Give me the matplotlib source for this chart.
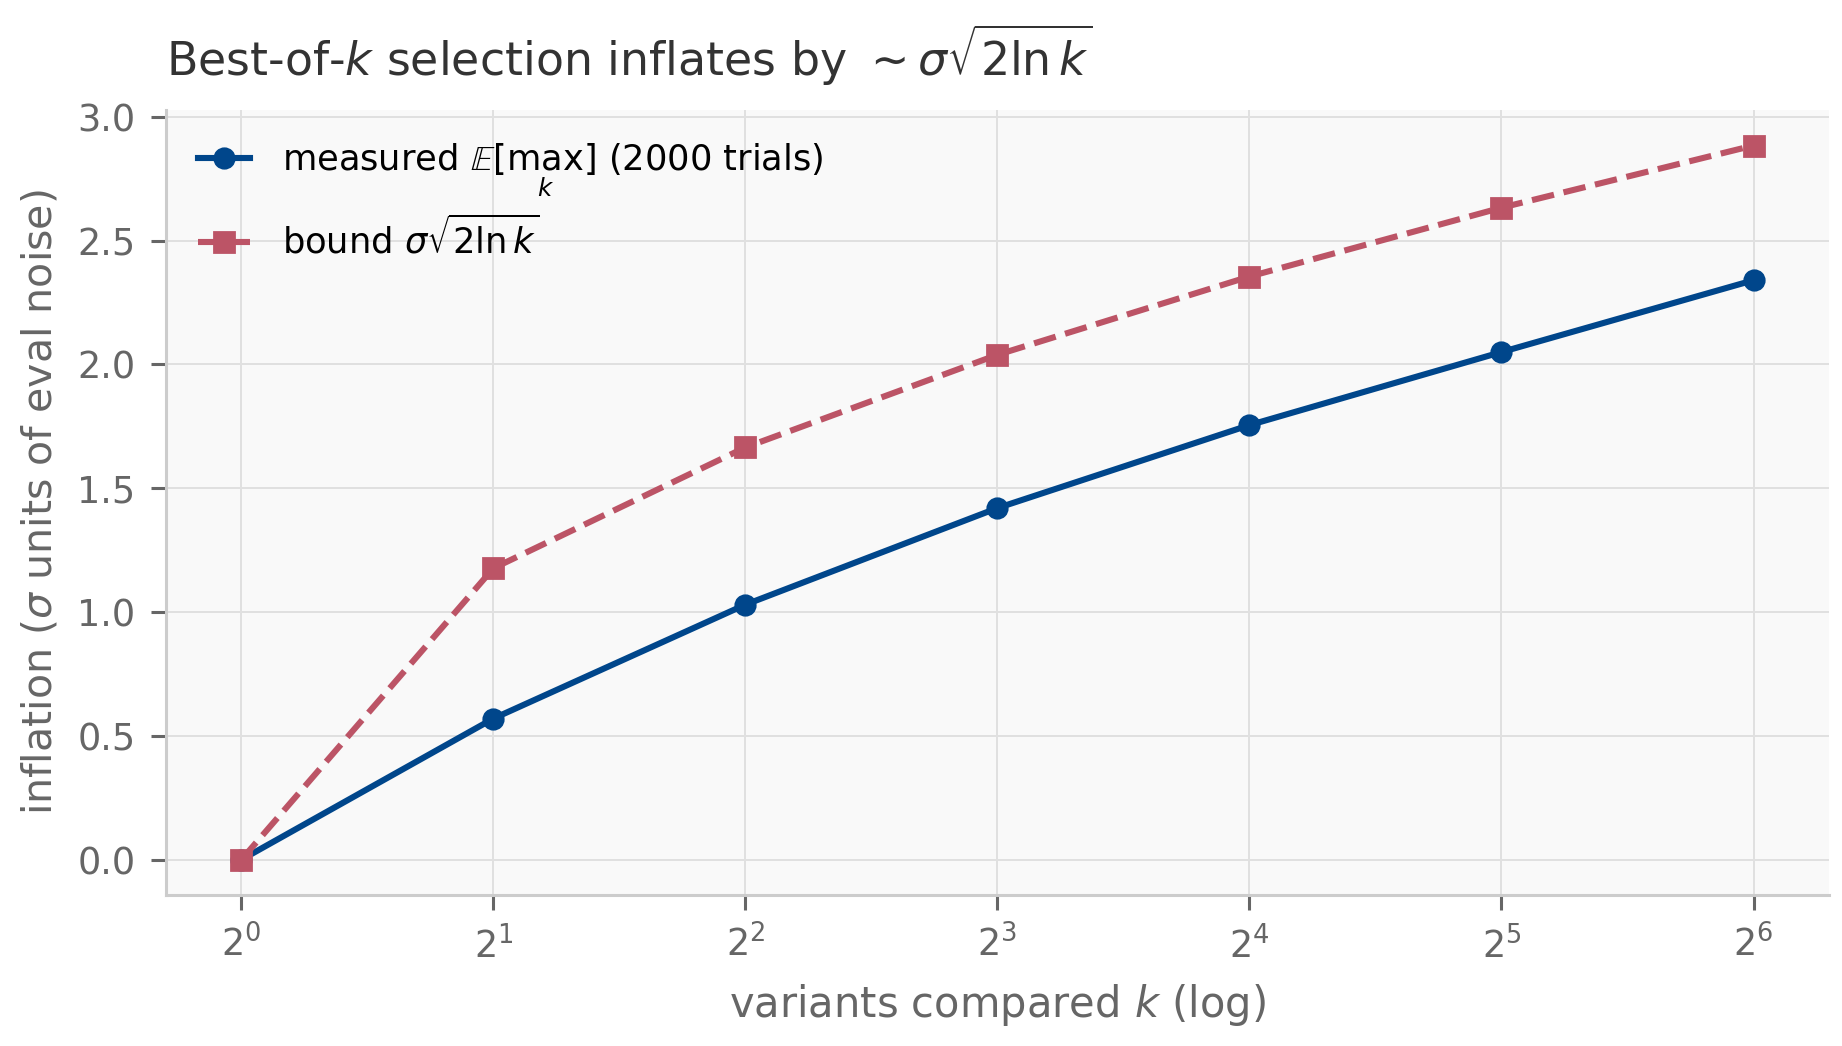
import matplotlib
matplotlib.use("Agg")
import matplotlib.pyplot as plt

k_values = [1, 2, 4, 8, 16, 32, 64]
measured = [0.0, 0.57, 1.03, 1.42, 1.755, 2.05, 2.34]
bound = [0.0, 1.177, 1.665, 2.039, 2.355, 2.633, 2.884]

blue = "#00468b"
red = "#bc5466"

plt.rcParams["font.family"] = ["DejaVu Sans"]
fig, ax = plt.subplots(figsize=(9.21, 5.23), dpi=200)
fig.patch.set_facecolor("white")
ax.set_facecolor("#f9f9f9")

ax.plot(k_values, measured, "-o", color=blue, lw=2.2, ms=7,
        label=r"measured $\mathbb{E}[\max_k]$ (2000 trials)", zorder=3)
ax.plot(k_values, bound, "--s", color=red, lw=2.2, ms=7,
        label=r"bound $\sigma\sqrt{2\ln k}$", zorder=3)

ax.set_xscale("log", base=2)
ax.set_xticks(k_values)
ax.grid(True, color="#e0e0e0", lw=0.7)
ax.set_axisbelow(True)
for s in ["top", "right"]:
    ax.spines[s].set_visible(False)
for s in ["left", "bottom"]:
    ax.spines[s].set_color("#cccccc")
    ax.spines[s].set_linewidth(1.1)
ax.tick_params(axis="both", colors="#666666", labelsize=13.2, length=5.4, width=1.1, pad=5.5)
ax.tick_params(axis="x", which="minor", length=0)

ax.set_xlabel(r"variants compared $k$ (log)", fontsize=15, color="#666666", labelpad=6)
ax.set_ylabel(r"inflation ($\sigma$ units of eval noise)", fontsize=14.8, color="#666666",
              labelpad=6)
ax.set_title(r"Best-of-$k$ selection inflates by $\sim\sigma\sqrt{2\ln k}$",
             fontsize=16.5, color="#333333", loc="left", pad=12)

leg = ax.legend(loc="upper left", frameon=False, fontsize=12.7, labelspacing=0.5,
                handlelength=1.5, handletextpad=0.9)

fig.subplots_adjust(left=0.09, right=0.993, top=0.895, bottom=0.144)
fig.savefig("out.png", dpi=200)
